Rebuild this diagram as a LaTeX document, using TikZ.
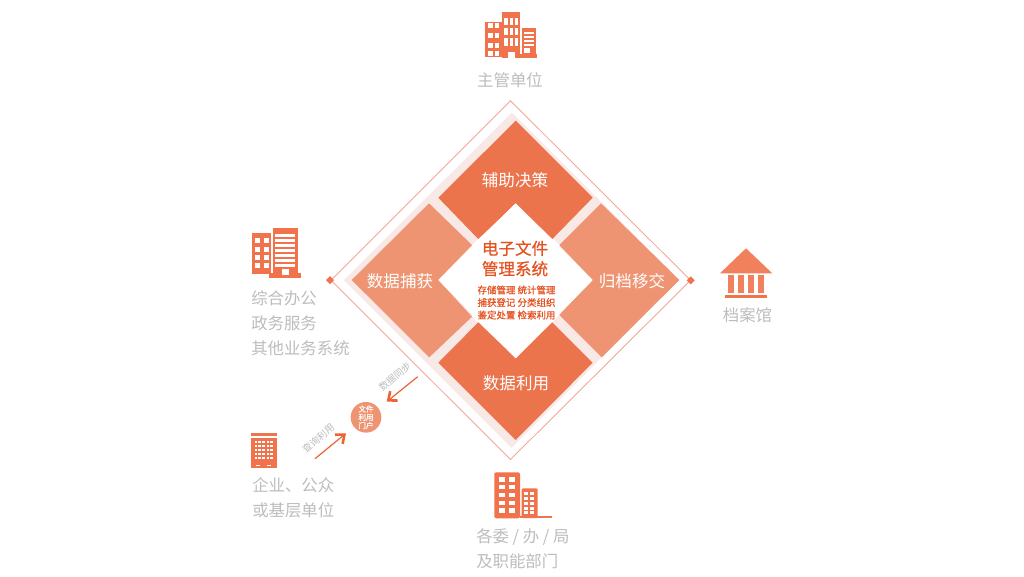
\documentclass[tikz,border=0pt]{standalone}
\usepackage{fontspec}
\setmainfont{Noto Sans CJK SC}
\newfontfamily\medcjk[FakeBold=0.6]{Noto Sans CJK SC}
\usetikzlibrary{arrows.meta}
\definecolor{tileA}{HTML}{EC744D}
\definecolor{tileB}{HTML}{EE9472}
\definecolor{pale}{HTML}{F8E8E6}
\definecolor{outline}{HTML}{F4A59B}
\definecolor{redtxt}{HTML}{E5511F}
\definecolor{graytxt}{HTML}{BDBDBD}
\definecolor{icon}{HTML}{F0734B}
\definecolor{arrowc}{HTML}{EE6233}
\newcommand{\fs}[2]{\fontsize{#1}{#2}\selectfont}
\tikzset{
  tilelabel/.style={text=white,font=\fs{12.4pt}{15pt},inner sep=0pt},
  graylabel/.style={text=graytxt,font=\fs{12.3pt}{18.75pt},inner sep=0pt,anchor=west,align=left},
  graycenter/.style={text=graytxt,font=\fs{12.3pt}{18.75pt},inner sep=0pt},
  difflabel/.style={text=graytxt,font=\fs{7.2pt}{8pt},inner sep=0pt,rotate=40},
  flow/.style={draw=arrowc,line width=.9pt,-{Straight Barb[length=5.5pt,width=9pt,line width=1.9pt]}},
  win/.style={fill=white,draw=none}
}
\begin{document}
\begin{tikzpicture}[x=.75pt,y=-.75pt]
\useasboundingbox (0,0) rectangle (1024,576);
\fill[white] (0,0) rectangle (1024,576);
% outer outline and pale diamond
\draw[outline,line width=.65pt] (510.5,100.7) -- (690.5,280.3) -- (510.5,459.5) -- (331,280.3) -- cycle;
\fill[pale] (511.7,112.7) -- (679,280) -- (511.7,447.7) -- (344,280) -- cycle;
\fill[icon] (330,276) -- (334,280) -- (330,284) -- (326,280) -- cycle;
\fill[icon] (690.7,276.3) -- (694.7,280.3) -- (690.7,284.3) -- (686.7,280.3) -- cycle;
% tiles
\fill[white] (515.7,203.3) -- (559.3,245) -- (559.3,315) -- (515.7,358.3) -- (472,316.7) -- (472,245) -- cycle;
\fill[tileA] (515.7,120.7) -- (592.7,197.7) -- (552.3,239) -- (515.7,203.3) -- (478.3,239) -- (438.3,197.7) -- cycle;
\fill[tileA] (515.7,440) -- (592.7,362.7) -- (552.3,322.3) -- (515.7,358.3) -- (478.3,322.3) -- (438.3,362.7) -- cycle;
\fill[tileB] (351.7,280) -- (429,203.3) -- (472,245) -- (438.3,280) -- (472,316.7) -- (429.3,357.3) -- cycle;
\fill[tileB] (679.3,280) -- (601,203.3) -- (559.3,245) -- (592.7,280) -- (559.3,315) -- (601.7,357.3) -- cycle;
\fill[white] (515.7,203.3) -- (592.7,280) -- (515.7,358.3) -- (438.3,280) -- cycle;
% tile labels
\node[tilelabel] (t1) at (515,180.5) {辅助决策};
\node[tilelabel] (t2) at (400,281) {数据捕获};
\node[tilelabel] (t3) at (632,281) {归档移交};
\node[tilelabel] (t4) at (516,383) {数据利用};
\node[text=redtxt,font=\medcjk\fs{12.4pt}{15.3pt},inner sep=0pt,align=center] (core) at (515,258.5) {电子文件\\管理系统};
\node[text=redtxt,font=\medcjk\fs{7.1pt}{9.4pt},inner sep=0pt,align=center] (funcs) at (516.5,302.5) {存储管理 统计管理\\捕获登记 分类组织\\鉴定处置 检索利用};
% top icon
\fill[icon] (485,21.7) rectangle (501.7,56.7);
\fill[icon] (502.3,12.3) rectangle (520,58);
\fill[icon] (521.7,27.7) rectangle (535.7,54.3);
\fill[icon] (520,54.3) rectangle (537,58);
\foreach \y in {23.3,33.3,43.3,51}{
  \fill[win] (488.3,\y) rectangle +(4.4,4.6);
  \fill[win] (495,\y) rectangle +(4.4,4.6);
}
\foreach \y in {17.7,27.7,38.3}{
  \fill[win] (504.3,\y) rectangle +(4,7.3);
  \fill[win] (510,\y) rectangle +(3.3,7.3);
  \fill[win] (515,\y) rectangle +(3.3,7.3);
}
\fill[win] (507.7,52) rectangle (515,58);
\foreach \y in {32,36,40,44}{\fill[win] (523.5,\y) rectangle +(10,2);}
\fill[win] (523.5,48) rectangle +(6,4.5);
\node[graycenter] (zg) at (510,80) {主管单位};
% left icon
\fill[icon] (252.3,233.3) rectangle (270.7,274.3);
\fill[icon] (272.7,228.3) rectangle (297.7,273.3);
\fill[icon] (269.3,273.3) rectangle (300.7,277.7);
\foreach \y in {237.7,246.7,255,263.3}{
  \fill[win] (255,\y) rectangle +(5,5);
  \fill[win] (264,\y) rectangle +(5.3,5);
}
\foreach \y in {234,239,244,249,254,259,264}{\fill[win] (275,\y) rectangle +(20,2.5);}
\fill[win] (281.7,269.3) rectangle (289,275);
\node[graylabel] (zh) at (251,323) {综合办公\\政务服务\\其他业务系统};
% bank icon
\fill[icon!90!white] (746,248.3) -- (772.3,273.3) -- (720,273.3) -- cycle;
\foreach \x in {728.3,738.3,748.3,758.3}{\fill[icon!90!white] (\x,275) rectangle +(5.7,18.3);}
\fill[icon] (725,295) rectangle (767.3,298.3);
\node[graycenter] (da) at (747.5,315.5) {档案馆};
% bottom icon
\fill[icon,rounded corners=1.5pt] (494.3,472.3) rectangle (520,518.3);
\fill[icon,rounded corners=1pt] (521.7,488.3) rectangle (537.7,518);
\fill[icon] (520,516) rectangle (552.3,518.3);
\foreach \y in {477.3,485,492.7,500.7,508.3}{
  \fill[win] (499.3,\y) rectangle +(5.7,4.4);
  \fill[win] (509.3,\y) rectangle +(5.7,4.4);
}
\foreach \y in {491.5,496.8,501.8,506.8,511}{
  \foreach \x in {524,529.8}{\fill[win] (\x,\y) rectangle +(4,3);}
}
\node[graylabel] (gw) at (476,548.5) {各委 / 办 / 局\\及职能部门};
% company icon
\fill[icon] (251,432.7) rectangle (276.7,436);
\fill[icon] (251,437.7) rectangle (276.7,468.3);
\foreach \y in {440.5,444.5,448.5,452.5,456.5}{
  \foreach \x in {254.5,258.3,262.1,266.5,270.3}{\fill[win] (\x,\y) rectangle +(2.6,2.6);}
}
\fill[win] (255.5,464.5) rectangle +(4.5,1.5);
\fill[win] (266.5,464.5) rectangle +(4.5,1.5);
\node[graylabel] (qy) at (252,497.5) {企业、公众\\或基层单位};
% portal
\node[circle,fill=tileB,minimum size=23pt,inner sep=0pt] (portal) at (366,417.3) {};
\node[text=white,font=\medcjk\fs{5.7pt}{6.2pt},inner sep=0pt,align=center] (portaltext) at (portal) {文件\\利用\\门户};
% connectors
\coordinate (syncstart) at (417.7,376.7);
\coordinate (syncend) at (386.7,401.7);
\coordinate (querystart) at (315,458.7);
\coordinate (queryend) at (346,433.3);
\draw[flow] (syncstart) -- (syncend);
\draw[flow] (querystart) -- (queryend);
\node[difflabel] (sync) at (395,376.5) {数据同步};
\node[difflabel] (query) at (318.3,438.3) {查询利用};
\end{tikzpicture}
\end{document}
